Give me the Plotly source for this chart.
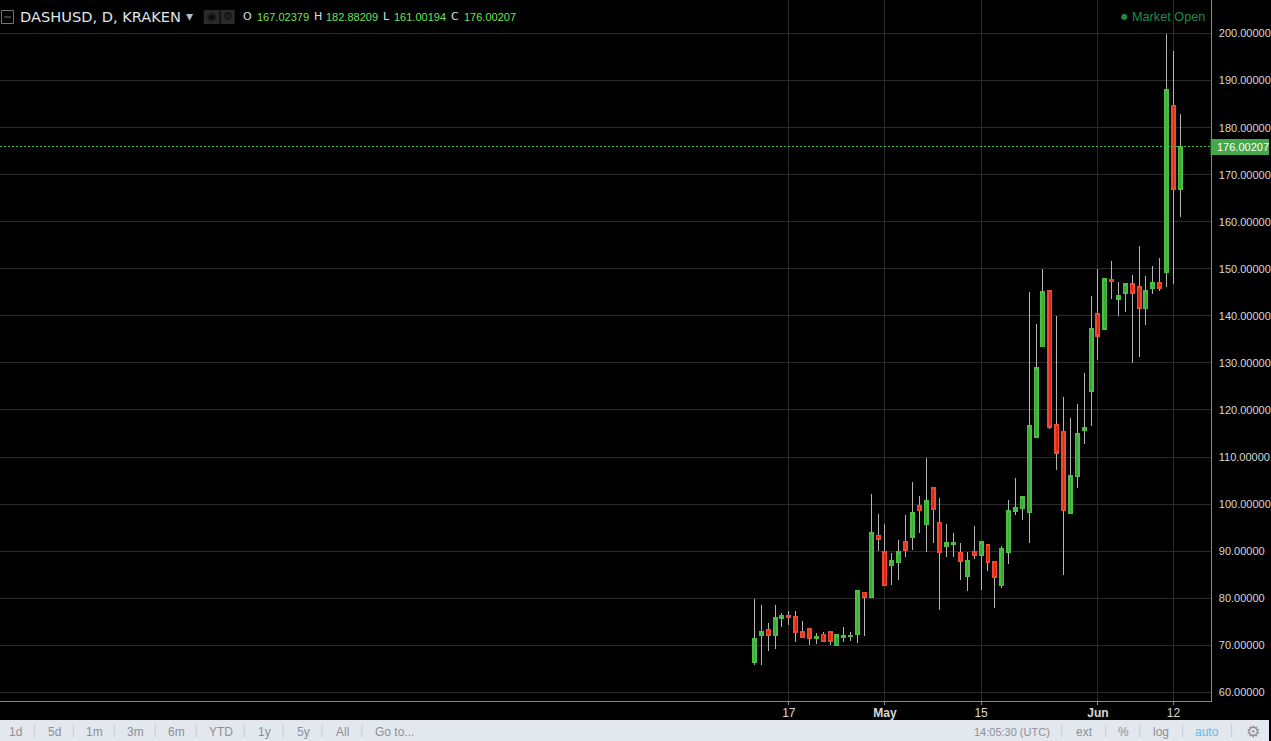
from datetime import datetime, timedelta
import plotly.graph_objects as go

# --- data -------------------------------------------------------------
start_date = "2017-04-12"
opens = [66.5,72.06,73.2,72.06,75.67,76.24,75.96,72.77,73.4,71.4,72.3,72.77,69.93,71.63,71.85,72.27,81.2,80.14,93.33,89.8,
         86.95,87.6,91.9,92.9,99.57,95.67,103.4,95.96,91.0,91.4,89.57,84.6,89.8,89.1,91.3,87.66,82.7,89.7,98.5,99.1,
         98.2,114.2,133.5,145.3,116.8,115.3,98.0,105.9,115.7,124.0,140.4,137.2,147.66,143.55,144.8,146.8,146.2,141.6,145.9,147.0,
         149.2,184.75,167.02379]
highs = [79.86,78.6,74.7,78.6,76.8,77.3,77.3,75.2,73.4,72.55,72.77,72.77,72.13,73.9,72.77,81.8,81.2,102.2,97.94,95.8,
         89.57,92.4,97.7,104.75,101.8,109.9,103.4,101.3,95.8,93.9,91.77,89.8,95.4,91.9,91.3,87.9,91.0,100.9,105.6,101.5,
         145.0,138.2,149.9,145.4,139.9,122.8,118.4,121.3,127.9,144.3,150.0,147.9,151.6,147.2,146.8,148.7,154.8,148.4,150.6,152.4,
         200.0,196.3,182.88209]
lows = [65.8,65.8,68.8,69.2,73.9,74.3,70.7,71.63,70.07,70.3,70.7,70.07,69.93,70.7,70.9,70.5,72.0,80.14,89.93,82.7,
        82.84,83.9,88.8,90.3,93.9,89.86,91.63,77.4,88.8,88.8,83.9,81.56,88.4,81.84,85.8,77.9,82.2,87.3,97.7,96.67,
        91.8,114.2,133.5,116.0,107.3,85.0,98.0,103.5,112.8,116.5,130.7,137.2,143.5,140.0,140.9,129.9,131.2,138.0,144.75,145.2,
        146.2,146.8,161.00194]
closes = [71.28,72.77,72.06,75.75,76.24,75.9,72.7,71.63,71.4,71.7,70.8,70.8,72.13,72.0,72.0,81.5,80.14,93.83,92.48,82.7,
          87.87,89.8,90.14,98.1,98.65,100.64,98.87,89.7,91.7,91.77,87.8,87.87,89.1,91.9,87.6,84.4,90.4,98.5,99.15,101.5,
          116.6,128.9,145.1,116.4,110.8,98.65,106.0,114.9,116.2,137.2,135.7,147.9,147.4,144.25,146.8,144.8,141.6,145.3,147.0,145.9,
          188.0,167.0,176.00207]
tick_dates = ["2017-04-17", "2017-05-01", "2017-05-15", "2017-06-01", "2017-06-12"]
tick_labels = ["17", "<b>May</b>", "15", "<b>Jun</b>", "12"]
last_price = 176.00207
ohlc_labels = ["O", "H", "L", "C"]
ohlc_values = ["167.02379", "182.88209", "161.00194", "176.00207"]
symbol_title = "DASHUSD, D, KRAKEN"
range_buttons = ["1d", "5d", "1m", "3m", "6m", "YTD", "1y", "5y", "All", "Go to..."]
right_buttons = ["14:05:30 (UTC)", "ext", "%", "log", "auto"]

# --- layout geometry --------------------------------------------------
W, H = 1271, 741
PLOT_R, PLOT_B = 1212.5, 701
FONT = "DejaVu Sans"
TICK_FONT = "Liberation Sans"
t0 = datetime(2017, 4, 12)
dates = [t0 + timedelta(days=i) for i in range(len(opens))]
ref = datetime(2017, 4, 17)
x_lo = ref - timedelta(days=114.85)
x_hi = ref + timedelta(days=61.41)
y_lo, y_hi = 58.15, 207.13

fig = go.Figure()
WICK = "#b4b4b4"
fig.add_trace(go.Candlestick(
    x=dates, open=opens, high=highs, low=lows, close=closes,
    increasing=dict(line=dict(color=WICK, width=1), fillcolor=WICK),
    decreasing=dict(line=dict(color=WICK, width=1), fillcolor=WICK),
    whiskerwidth=0, showlegend=False, hoverinfo="skip"))
fig.add_trace(go.Candlestick(
    x=dates, open=opens, close=closes,
    high=[max(o, c) for o, c in zip(opens, closes)],
    low=[min(o, c) for o, c in zip(opens, closes)],
    increasing=dict(line=dict(color="#4cbf42", width=1.6), fillcolor="#38a838"),
    decreasing=dict(line=dict(color="#ee4a32", width=1.6), fillcolor="#e2231a"),
    whiskerwidth=0, showlegend=False, hoverinfo="skip"))

shapes = []
anns = []

def px_x(x):
    return x / W

def px_y(y):
    return 1 - y / H

def text(x, y, s, color, size=12, anchor="left", font=FONT):
    anns.append(dict(xref="paper", yref="paper", x=px_x(x), y=px_y(y), text=s, showarrow=False,
                     xanchor=anchor, yanchor="middle", align=anchor,
                     font=dict(family=font, size=size, color=color), borderpad=0, borderwidth=0))

def rect(x0, y0, x1, y1, fill=None, line=None, lw=1):
    shapes.append(dict(type="rect", xref="paper", yref="paper", x0=px_x(x0), x1=px_x(x1), y0=px_y(y0), y1=px_y(y1),
                       fillcolor=fill or "rgba(0,0,0,0)", line=dict(color=line or "rgba(0,0,0,0)", width=lw if line else 0),
                       layer="above"))

def vline(x, y0, y1, color):
    shapes.append(dict(type="line", xref="paper", yref="paper", x0=px_x(x), x1=px_x(x), y0=px_y(y0), y1=px_y(y1),
                       line=dict(color=color, width=1), layer="above"))

# last-price line and flag
shapes.append(dict(type="line", xref="x", yref="y", x0=x_lo, x1=x_hi, y0=last_price, y1=last_price,
                   line=dict(color="#3fbf4a", width=1, dash="2px,2px"), layer="above"))
rect(PLOT_R, 139, W, 155, fill="#44a84a")
text(1219, 147.5, f"{last_price:.5f}", "#ffffff", 11, font=TICK_FONT)

# header
rect(1.5, 10.5, 13.5, 23.5, line="#777777")
shapes.append(dict(type="line", xref="paper", yref="paper", x0=px_x(4), x1=px_x(11), y0=px_y(17), y1=px_y(17),
                   line=dict(color="#777777", width=1), layer="above"))
text(20, 17, symbol_title, "#dfe5ea", 14.6)
text(186, 16, "▾", "#b8bcc0", 14)
rect(204, 10, 220, 24, fill="#2b2b2b")
rect(221, 10, 235, 24, fill="#2b2b2b")
text(212, 17, "◉", "#0a0a0a", 11, anchor="center")
text(228, 17, "⚙", "#0a0a0a", 11, anchor="center")
ohlc_lx = [243, 314, 384, 452]
ohlc_vx = [257, 327, 395, 464.5]
for lab, val, lx, vx in zip(ohlc_labels, ohlc_values, ohlc_lx, ohlc_vx):
    text(lx, 17, lab, "#cfe0ec", 11, font=FONT)
    text(vx, 17, val, "#6fe05a", 11, font=TICK_FONT)
text(1122.5, 17, "●", "#1f8a4a", 8)
text(1133.5, 17, "Market Open", "#1f8a4a", 12.7, font=TICK_FONT)

# bottom toolbar
rect(0, 720, W, H, fill="#e3e7ee")
BTN = "#8c9096"
SEP = "#c8ccd2"
for lab, cx in zip(range_buttons, [16, 54.5, 94.5, 135.5, 176.5, 221, 264.5, 303.5, 343, 395.5]):
    text(cx, 731.5, lab, BTN, 12, anchor="center", font=TICK_FONT)
for sx in [34.5, 73.5, 114.5, 155.5, 196.5, 244.5, 283.5, 322.5, 362.5, 1063.5, 1107.5, 1141.5, 1184.5, 1233.5]:
    vline(sx, 724, 737, SEP)
for lab, cx, sz in zip(right_buttons, [1013.5, 1086, 1125, 1163, 1209], [11, 12, 12, 12, 12]):
    text(cx, 731.5, lab, "#5cc0e8" if lab == "auto" else BTN, sz, anchor="center", font=TICK_FONT)
text(1254.5, 731, "⚙", BTN, 16, anchor="center")

fig.update_layout(
    width=W, height=H, autosize=False,
    margin=dict(l=0, r=0, t=0, b=0, pad=0),
    paper_bgcolor="#000000", plot_bgcolor="#000000",
    showlegend=False, hovermode=False, dragmode=False,
    shapes=shapes, annotations=anns,
    xaxis=dict(domain=[0, PLOT_R / W], range=[x_lo, x_hi], type="date", rangeslider=dict(visible=False),
               tickmode="array", tickvals=tick_dates, ticktext=tick_labels,
               showgrid=True, gridcolor="#2a2a2a", gridwidth=1, zeroline=False,
               showline=True, linecolor="#8a8a8a", linewidth=1,
               ticks="outside", ticklen=3, tickcolor="#8a8a8a", ticklabelstandoff=-2,
               tickfont=dict(family=TICK_FONT, size=12, color="#d8d8d8"), anchor="y"),
    yaxis=dict(domain=[1 - PLOT_B / H, 1], range=[y_lo, y_hi], side="right", anchor="x",
               tickmode="linear", tick0=60, dtick=10, tickformat=".5f",
               showgrid=True, gridcolor="#2a2a2a", gridwidth=1, zeroline=False,
               showline=True, linecolor="#8a8a8a", linewidth=1,
               ticks="outside", ticklen=5, tickcolor="#000000",
               tickfont=dict(family=TICK_FONT, size=11, color="#d8d8d8")),
)
post = ("document.body.style.margin='0';document.documentElement.style.overflow='hidden';"
        "document.documentElement.style.background='#000';"
        "document.querySelectorAll('.boxlayer path').forEach(function(p){p.style.shapeRendering='crispEdges';});")
fig.write_html("out.html", config=dict(displayModeBar=False, staticPlot=True), post_script=post)
